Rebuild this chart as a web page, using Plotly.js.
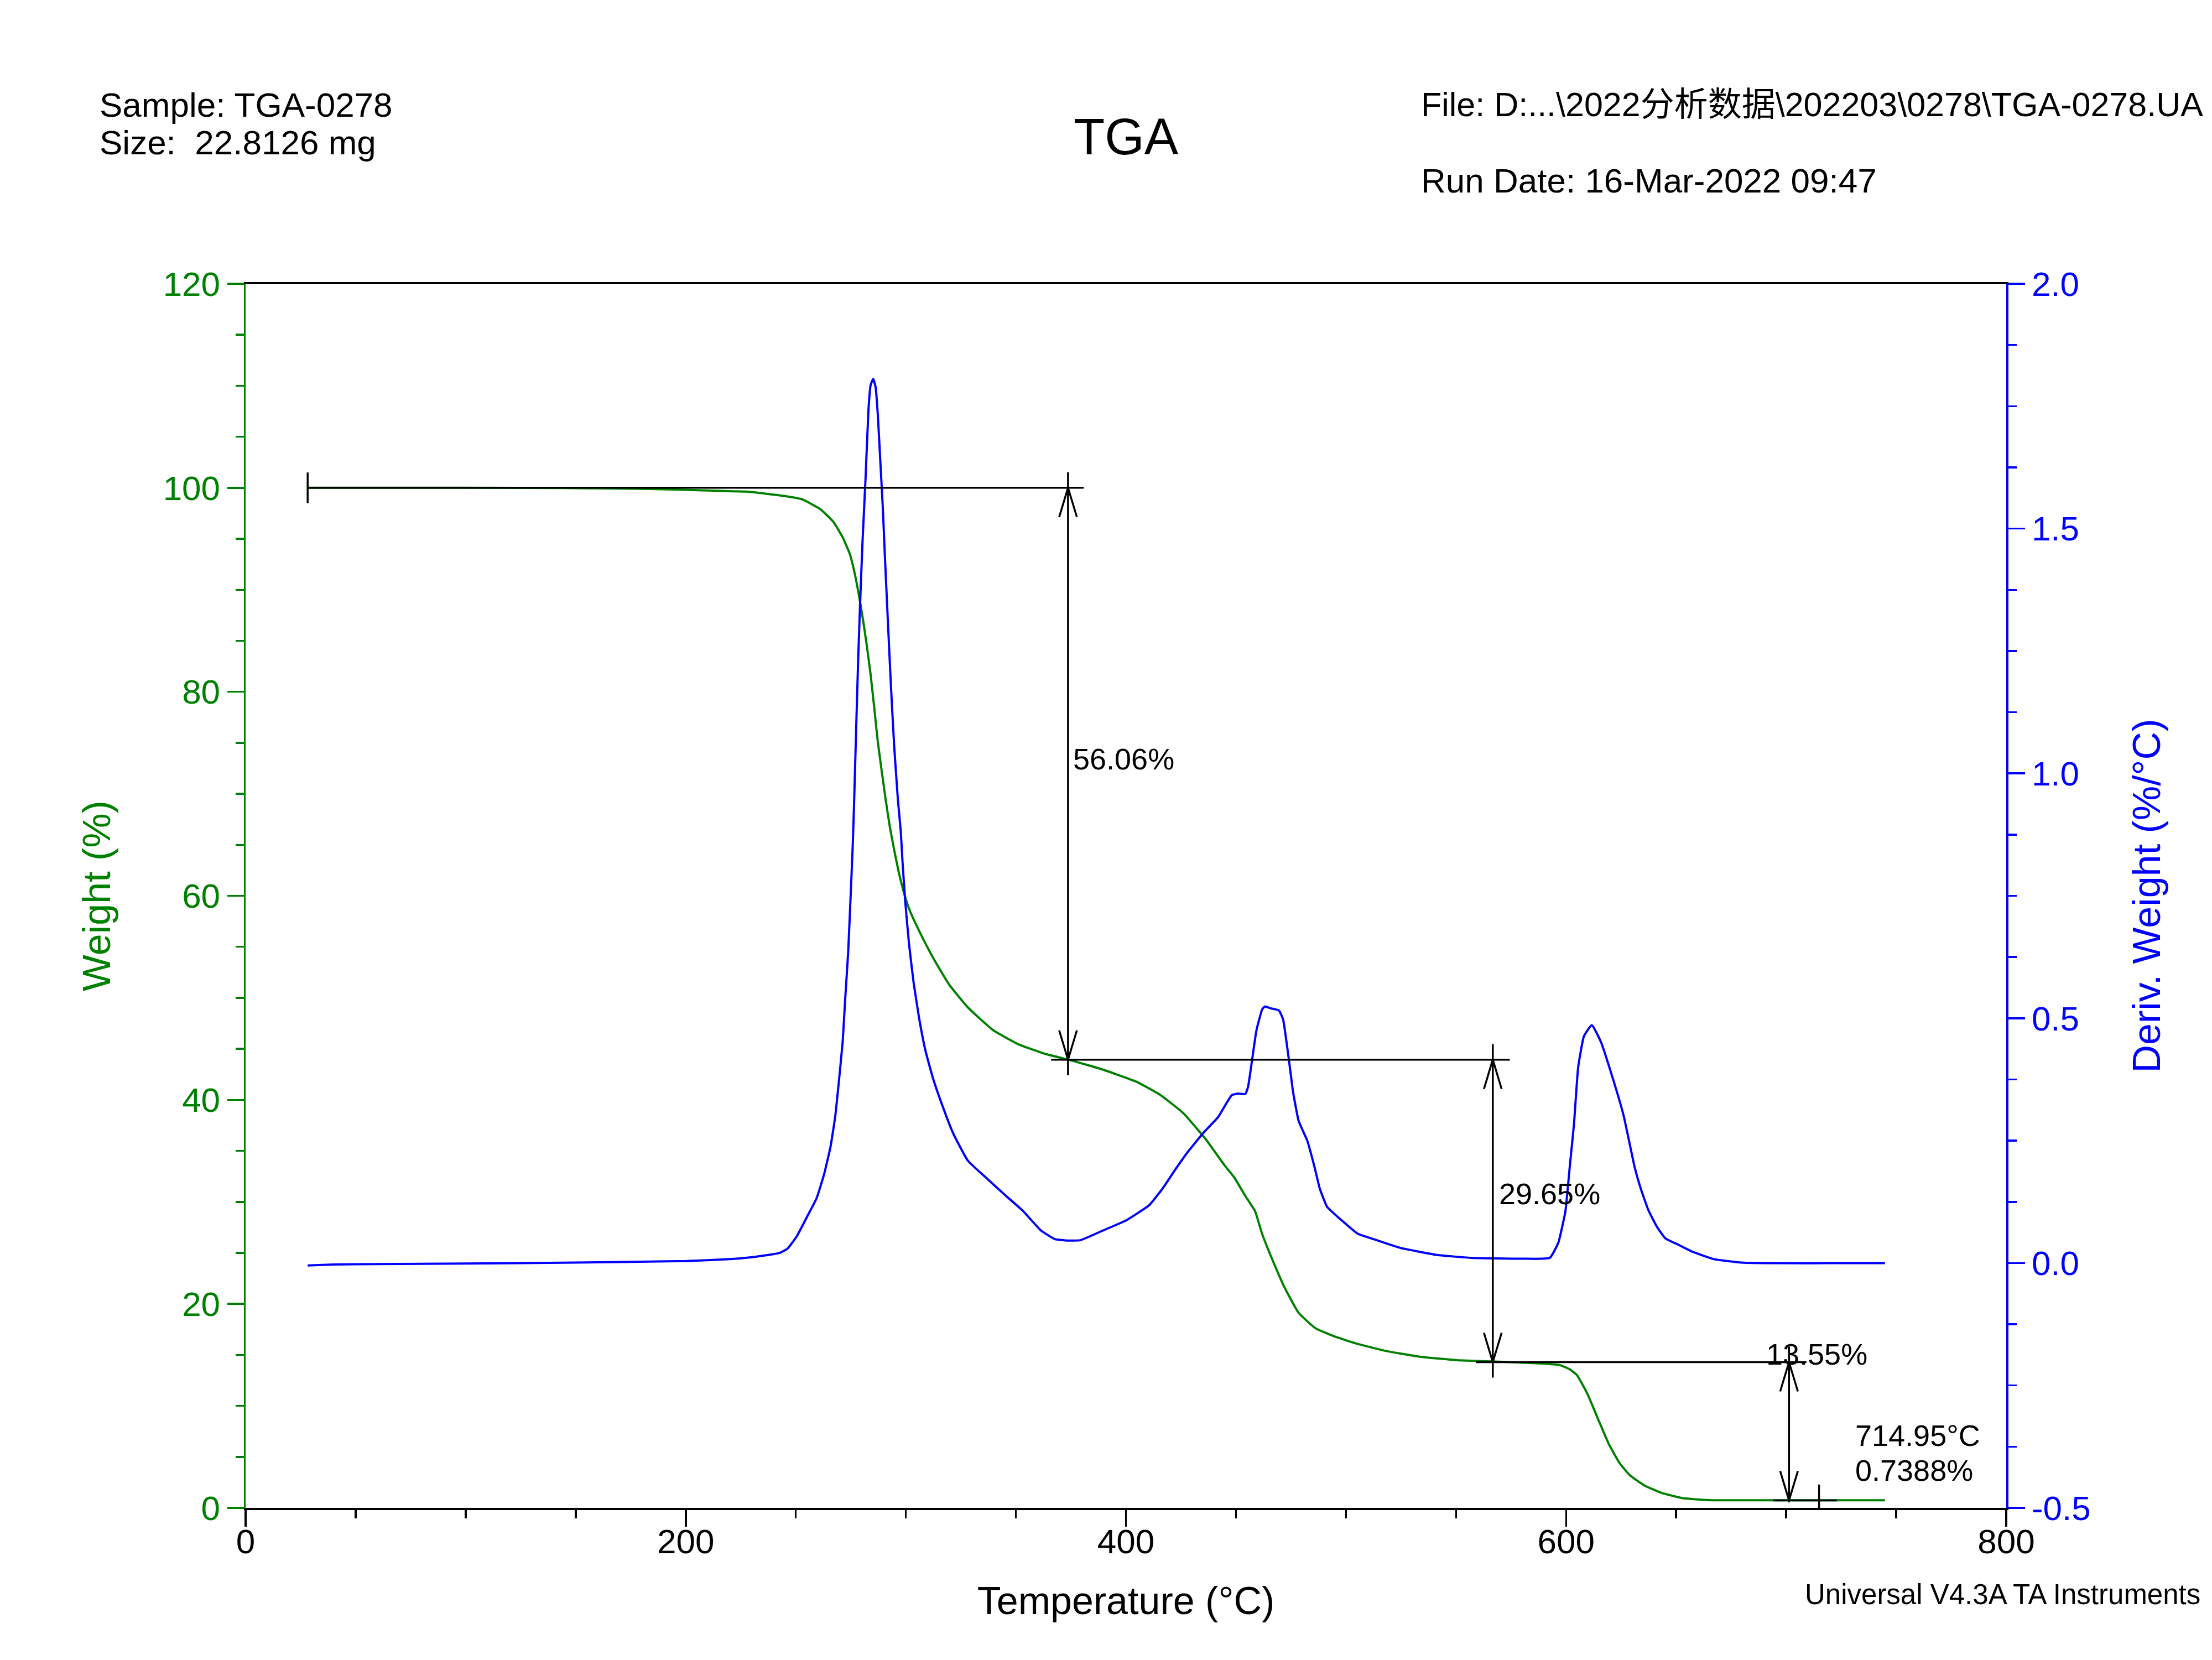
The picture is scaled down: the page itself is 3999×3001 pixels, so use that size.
<!DOCTYPE html>
<html>
<head>
<meta charset="utf-8">
<script src="https://cdn.plot.ly/plotly-3.0.1.min.js"></script>
<style>html,body{margin:0;padding:0;background:#fff;}#chart{width:3999px;height:3001px;}</style>
</head>
<body>
<div id="chart"></div>
<script>
// ---------------- data ----------------
const weightTemp = [28.2, 100, 150, 180, 200, 215, 227.8, 244.5, 252.9, 261.2, 267.1, 271.3, 274.6, 277.1, 278.8, 280.5, 282.2, 283.9, 285.6, 287.2, 288.9, 291.0, 292.7, 294.7, 296.8, 298.9, 301.0, 303.1, 306.2, 308.1, 311.4, 314.0, 319.8, 328.2, 339.6, 351.1, 363.6, 374.0, 389.6, 405.3, 415.7, 426.2, 436.6, 444.9, 449.2, 454.2, 458.7, 461.9, 467.0, 472.1, 478.5, 486.2, 495.2, 505.4, 518.2, 533.6, 550.4, 569.7, 589.0, 597.2, 601.7, 604.9, 609.7, 614.5, 619.4, 624.2, 629.0, 635.7, 643.5, 653.1, 664.6, 690.0, 744.9];
const weightPct = [100.0, 100.0, 99.97, 99.9, 99.8, 99.7, 99.62, 99.21, 98.87, 97.9, 96.66, 95.14, 93.48, 91.27, 89.33, 87.12, 84.63, 81.86, 78.54, 75.22, 72.45, 69.19, 66.8, 64.5, 62.3, 60.5, 59.0, 57.9, 56.5, 55.67, 54.31, 53.32, 51.27, 49.06, 46.84, 45.45, 44.49, 43.93, 42.96, 41.72, 40.47, 38.67, 36.05, 33.56, 32.4, 30.6, 29.08, 26.86, 24.1, 21.6, 19.11, 17.6, 16.77, 16.07, 15.38, 14.82, 14.48, 14.33, 14.15, 14.0, 13.58, 13.03, 11.18, 8.73, 6.27, 4.43, 3.2, 2.18, 1.46, 0.95, 0.76, 0.74, 0.74];

const derivTemp = [28.2, 40, 60, 100, 150, 200, 220, 227.8, 236.1, 242.8, 246.1, 250.3, 255.4, 259.5, 262.9, 265.8, 267.9, 269.6, 271.3, 272.5, 273.8, 275.0, 275.9, 276.5, 277.5, 278.4, 279.2, 280.3, 281.7, 283.0, 284.0, 285.2, 286.3, 287.3, 288.4, 289.5, 290.5, 291.8, 293.2, 294.7, 296.4, 297.7, 298.5, 299.7, 301.4, 303.5, 306.0, 308.9, 312.3, 316.5, 321.5, 328.2, 337.5, 345.8, 353.1, 361.4, 367.7, 373.5, 379.2, 389.6, 400.0, 410.5, 416.8, 422.0, 428.3, 435.6, 441.8, 448.1, 451.2, 454.2, 455.5, 457.4, 459.3, 461.9, 463.1, 466.0, 469.5, 471.4, 474.0, 476.0, 478.5, 482.4, 485.6, 488.1, 491.4, 497.7, 505.4, 513.1, 524.7, 541.4, 556.7, 579.8, 592.6, 596.5, 599.7, 601.7, 603.6, 605.5, 608.1, 611.7, 615.8, 620.9, 626.1, 631.2, 634.0, 637.4, 641.3, 645.1, 650.9, 657.6, 667.3, 680.8, 744.9];
const derivVal = [-0.005, -0.003, -0.002, -0.001, 0.001, 0.004, 0.008, 0.011, 0.0157, 0.021, 0.029, 0.0535, 0.097, 0.133, 0.182, 0.238, 0.299, 0.372, 0.452, 0.543, 0.635, 0.758, 0.856, 0.941, 1.102, 1.240, 1.344, 1.471, 1.603, 1.741, 1.793, 1.806, 1.788, 1.730, 1.638, 1.546, 1.442, 1.315, 1.182, 1.056, 0.946, 0.882, 0.819, 0.740, 0.654, 0.574, 0.501, 0.434, 0.378, 0.323, 0.265, 0.209, 0.170, 0.136, 0.107, 0.0665, 0.049, 0.046, 0.0466, 0.0665, 0.087, 0.118, 0.153, 0.188, 0.228, 0.268, 0.2975, 0.343, 0.346, 0.345, 0.36, 0.417, 0.475, 0.518, 0.524, 0.520, 0.516, 0.498, 0.417, 0.348, 0.290, 0.250, 0.198, 0.152, 0.115, 0.0885, 0.0597, 0.048, 0.031, 0.0165, 0.0107, 0.009, 0.0107, 0.042, 0.106, 0.198, 0.284, 0.400, 0.463, 0.486, 0.452, 0.382, 0.302, 0.195, 0.151, 0.108, 0.074, 0.0505, 0.0377, 0.0228, 0.0079, 0.0007, 0.0];

// step analysis
const stepTemps = [373.7, 566.7, 701.3];
const stepLevels = [100, 43.94, 14.29, 0.7388];
const stepLabels = ['56.06%', '29.65%', '13.55%'];
const residueTemp = 714.95;
const residueWeight = 0.7388;
const residueLabels = ['714.95°C', '0.7388%'];

// tick labels
const xTickVals = [0, 200, 400, 600, 800];
const yTickVals = [0, 20, 40, 60, 80, 100, 120];
const y2TickVals = [-0.5, 0.0, 0.5, 1.0, 1.5, 2.0];
const y2TickText = ['-0.5', '0.0', '0.5', '1.0', '1.5', '2.0'];

// header texts
const headerLeft = ['Sample: TGA-0278', 'Size:\u00A0\u00A022.8126 mg'];
const headerRight = ['File: D:...\\2022分析数据\\202203\\0278\\TGA-0278.UA', 'Run Date: 16-Mar-2022 09:47'];
const footerText = 'Universal V4.3A TA Instruments';

// ---------------- layout geometry / styles ----------------
const W_PX = 3999, H_PX = 3001;
const PL = 444, PR = 3627, PT = 513, PB = 2726;
const FONT = 'Liberation Sans, Arial, Noto Sans CJK SC, sans-serif';
const GREEN = '#008000', BLUE = '#0000ff', BLACK = '#000000';
const px2x = px => (px - PL) / (PR - PL);     // paper x
const px2y = py => (PB - py) / (PB - PT);     // paper y

const X_RANGE = [0, 800], Y_RANGE = [0, 120];
const xPerPx = (X_RANGE[1] - X_RANGE[0]) / (PR - PL);
const yPerPx = (Y_RANGE[1] - Y_RANGE[0]) / (PB - PT);
const headHalfW = 16 * xPerPx, headLen = 53 * yPerPx, overshoot = 28 * yPerPx;
const LW = 3.5, AXW = 3.5, CW = 4;

// ---------------- shapes for step analysis ----------------
const shapes = [];
function seg(x0, y0, x1, y1) {
  shapes.push({type: 'line', xref: 'x', yref: 'y', x0: x0, y0: y0, x1: x1, y1: y1,
    line: {color: BLACK, width: LW}, layer: 'above'});
}
function head(x, y, dir) { // dir=+1 pointing up, -1 pointing down
  shapes.push({type: 'path', xref: 'x', yref: 'y', layer: 'above',
    path: `M ${x - headHalfW},${y - dir * headLen} L ${x},${y} L ${x + headHalfW},${y - dir * headLen}`,
    line: {color: BLACK, width: LW}});
}
const hLineFrom = [28.2, 366, 559, 694.2];
const hLineTo = [380.8, 574.4, 709.2, 723];
for (let i = 0; i < stepLevels.length; i++) seg(hLineFrom[i], stepLevels[i], hLineTo[i], stepLevels[i]);
seg(hLineFrom[0], stepLevels[0] - 1.5, hLineFrom[0], stepLevels[0] + 1.5);
for (let i = 0; i < stepTemps.length; i++) {
  const top = stepLevels[i], bot = stepLevels[i + 1];
  const ext = i < 2 ? overshoot : 0;
  seg(stepTemps[i], top + overshoot, stepTemps[i], bot - ext);
  head(stepTemps[i], top, 1);
  head(stepTemps[i], bot, -1);
}
seg(residueTemp, residueWeight + 1.55, residueTemp, residueWeight - 1.5);

// ---------------- annotations ----------------
const ann = [];
const labelPos = [[375.5, 73.4], [568.9, 30.8], [690.4, 15.07]];
stepLabels.forEach((t, i) => ann.push({xref: 'x', yref: 'y', x: labelPos[i][0], y: labelPos[i][1],
  text: t, showarrow: false, xanchor: 'left', yanchor: 'middle', font: {family: FONT, size: 54, color: BLACK}}));
ann.push({xref: 'x', yref: 'y', x: 730.8, y: 7.1, text: residueLabels[0], showarrow: false,
  xanchor: 'left', yanchor: 'middle', font: {family: FONT, size: 54, color: BLACK}});
ann.push({xref: 'x', yref: 'y', x: 730.8, y: 3.69, text: residueLabels[1], showarrow: false,
  xanchor: 'left', yanchor: 'middle', font: {family: FONT, size: 54, color: BLACK}});

const hdrFont = {family: FONT, size: 62, color: BLACK};
ann.push({xref: 'paper', yref: 'paper', x: px2x(178), y: px2y(189), text: headerLeft[0], showarrow: false, xanchor: 'left', yanchor: 'middle', font: hdrFont});
ann.push({xref: 'paper', yref: 'paper', x: px2x(178), y: px2y(258), text: headerLeft[1], showarrow: false, xanchor: 'left', yanchor: 'middle', font: hdrFont});
ann.push({xref: 'paper', yref: 'paper', x: px2x(2567), y: px2y(189), text: headerRight[0], showarrow: false, xanchor: 'left', yanchor: 'middle', font: {family: FONT, size: 61, color: BLACK}});
ann.push({xref: 'paper', yref: 'paper', x: px2x(2567), y: px2y(326), text: headerRight[1], showarrow: false, xanchor: 'left', yanchor: 'middle', font: hdrFont});
ann.push({xref: 'paper', yref: 'paper', x: px2x(3980), y: px2y(2882), text: footerText, showarrow: false, xanchor: 'right', yanchor: 'middle', font: {family: FONT, size: 51, color: BLACK}});

// ---------------- traces ----------------
const traces = [
  {x: weightTemp, y: weightPct, type: 'scatter', mode: 'lines', name: 'Weight (%)',
   line: {color: GREEN, width: CW, shape: 'spline', smoothing: 0.4}, yaxis: 'y', hoverinfo: 'skip'},
  {x: derivTemp, y: derivVal, type: 'scatter', mode: 'lines', name: 'Deriv. Weight (%/°C)',
   line: {color: BLUE, width: CW, shape: 'spline', smoothing: 0.4}, yaxis: 'y2', hoverinfo: 'skip'}
];

const layout = {
  width: W_PX, height: H_PX,
  margin: {l: PL, r: W_PX - PR, t: PT, b: H_PX - PB, pad: 0},
  paper_bgcolor: '#ffffff', plot_bgcolor: '#ffffff',
  showlegend: false,
  font: {family: FONT, color: BLACK},
  title: {text: 'TGA', font: {family: FONT, size: 92, color: BLACK},
          xref: 'paper', x: 0.5, xanchor: 'center', yref: 'container', y: 1 - 247 / H_PX, yanchor: 'middle'},
  xaxis: {
    range: X_RANGE, tickmode: 'array', tickvals: xTickVals, ticks: 'outside', ticklen: 30, tickwidth: AXW, tickcolor: BLACK,
    showline: true, linecolor: BLACK, linewidth: AXW, mirror: true, showgrid: false, zeroline: false,
    tickfont: {family: FONT, size: 62, color: BLACK}, ticklabelstandoff: -26,
    minor: {tickmode: 'linear', tick0: 0, dtick: 50, ticks: 'outside', ticklen: 15, tickwidth: AXW, tickcolor: BLACK, showgrid: false},
    title: {text: 'Temperature (°C)', font: {family: FONT, size: 70, color: BLACK}, standoff: 50},
    automargin: false
  },
  yaxis: {
    range: Y_RANGE, tickmode: 'array', tickvals: yTickVals, ticks: 'outside', ticklen: 30, tickwidth: AXW, tickcolor: GREEN,
    showline: true, linecolor: GREEN, linewidth: AXW, showgrid: false, zeroline: false,
    tickfont: {family: FONT, size: 62, color: GREEN},
    minor: {tickmode: 'linear', tick0: 0, dtick: 5, ticks: 'outside', ticklen: 15, tickwidth: AXW, tickcolor: GREEN, showgrid: false},
    title: {text: 'Weight (%)', font: {family: FONT, size: 70, color: GREEN}, standoff: 73},
    automargin: false
  },
  yaxis2: {
    range: [-0.5, 2.0], overlaying: 'y', side: 'right', tickmode: 'array', tickvals: y2TickVals, ticktext: y2TickText,
    ticks: 'outside', ticklen: 30, tickwidth: AXW, tickcolor: BLUE,
    showline: true, linecolor: BLUE, linewidth: AXW, showgrid: false, zeroline: false,
    tickfont: {family: FONT, size: 62, color: BLUE},
    minor: {tickmode: 'linear', tick0: -0.5, dtick: 0.125, ticks: 'outside', ticklen: 15, tickwidth: AXW, tickcolor: BLUE, showgrid: false},
    title: {text: 'Deriv. Weight (%/°C)', font: {family: FONT, size: 70, color: BLUE}, standoff: 78},
    automargin: false
  },
  shapes: shapes,
  annotations: ann
};

Plotly.newPlot('chart', traces, layout, {staticPlot: true, displayModeBar: false});
</script>
</body>
</html>
